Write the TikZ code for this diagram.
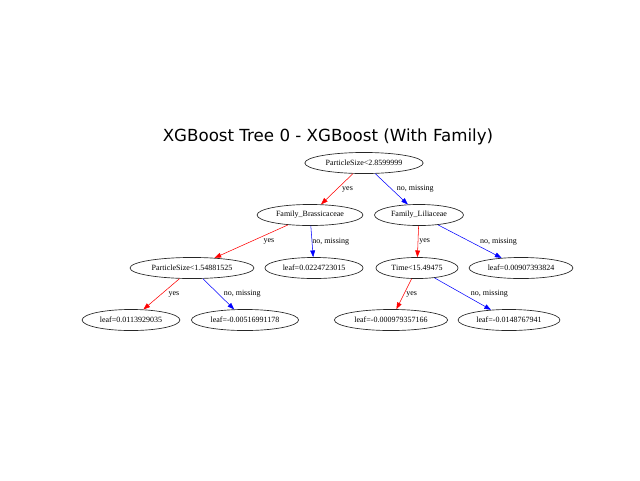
\documentclass[tikz,border=0pt]{standalone}
\usepackage{fontspec}
\setmainfont{Liberation Serif}
\newfontfamily\titlefont{DejaVu Sans}
\usepackage{tikz}
\usetikzlibrary{arrows.meta,shapes,positioning}

\tikzset{
  tnode/.style={draw=black!85, line width=0.5pt, ellipse, inner xsep=2.6pt, inner ysep=0pt,
    minimum height=15.8pt, font=\fontsize{6}{7}\selectfont},
  yesedge/.style={draw=red, line width=0.4pt, -{Triangle[length=5pt,width=3.6pt]}},
  noedge/.style={draw=blue, line width=0.4pt, -{Triangle[length=5pt,width=3.6pt]}},
  lbl/.style={midway, anchor=west, inner sep=0pt, font=\fontsize{6}{7}\selectfont}
}

\begin{document}
\begin{tikzpicture}[x=0.75pt,y=-0.75pt]
            \useasboundingbox (0,0) rectangle (640,480);

            % title
            \node[anchor=base, font=\titlefont\fontsize{12.5}{15}\selectfont] (title) at (328,141) {XGBoost Tree 0 - XGBoost (With Family)};

            % splits
            \node[tnode] (root) at (364,163) {ParticleSize<2.8599999};
            \node[tnode] (brass) at (310,215) {Family\_Brassicaceae};
            \node[tnode] (lili) at (419,215) {Family\_Liliaceae};
            \node[tnode] (psize) at (192,268) {ParticleSize<1.54881525};
            \node[tnode] (time) at (417,268) {Time<15.49475};

            % leaves
            \node[tnode] (leafA) at (314,268) {leaf=0.0224723015};
            \node[tnode] (leafB) at (521,268) {leaf=0.00907393824};
            \node[tnode] (leafC) at (131,320) {leaf=0.0113929035};
            \node[tnode] (leafD) at (245,320) {leaf=-0.00516991178};
            \node[tnode] (leafE) at (391,320) {leaf=-0.000979357166};
            \node[tnode] (leafF) at (509,320) {leaf=-0.0148767941};

            % edges
            \draw[yesedge] (root) -- (brass) node[lbl, xshift=3.75pt] {yes};
            \draw[noedge] (root) -- (lili) node[lbl, xshift=3.75pt] {no, missing};
            \draw[yesedge] (brass) -- (psize) node[lbl, xshift=9pt] {yes};
            \draw[noedge] (brass) -- (leafA) node[lbl, xshift=0pt] {no, missing};
            \draw[yesedge] (lili) -- (time) node[lbl, xshift=0.75pt] {yes};
            \draw[noedge] (lili) -- (leafB) node[lbl, xshift=7.5pt] {no, missing};
            \draw[yesedge] (psize) -- (leafC) node[lbl, xshift=5.25pt] {yes};
            \draw[noedge] (psize) -- (leafD) node[lbl, xshift=3.75pt] {no, missing};
            \draw[yesedge] (time) -- (leafE) node[lbl, xshift=1.5pt] {yes};
            \draw[noedge] (time) -- (leafF) node[lbl, xshift=6pt] {no, missing};

        \end{tikzpicture}
\end{document}
